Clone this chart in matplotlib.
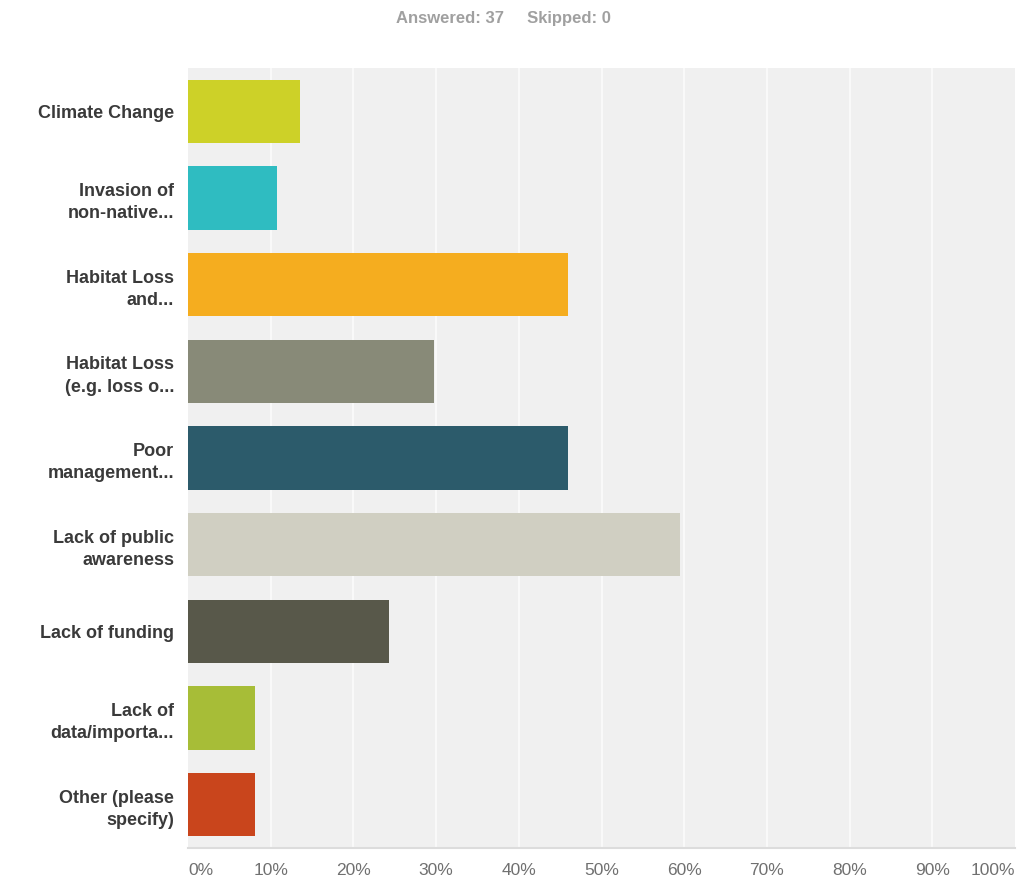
import matplotlib.pyplot as plt
import numpy as np

categories = ["Climate Change", "Invasion of\nnon-native...", "Habitat Loss\nand...",
              "Habitat Loss\n(e.g. loss o...", "Poor\nmanagement...",
              "Lack of public\nawareness", "Lack of funding", "Lack of\ndata/importa...",
              "Other (please\nspecify)"]
percents = [13.51, 10.81, 45.95, 29.73, 45.95, 59.46, 24.32, 8.11, 8.11]
colors = ["#cdd128", "#2fbcc1", "#f5ad1f", "#888a78", "#2c5b6b",
          "#d0cfc2", "#58584a", "#a7bd37", "#c9451c"]
tick_vals = list(range(0, 101, 10))
tick_labels = [f"{v}%" for v in tick_vals]

plt.rcParams['font.family'] = ['Liberation Sans', 'DejaVu Sans']

fig = plt.figure(figsize=(10.36, 8.91), dpi=100)
ax = fig.add_axes([188/1036, 1 - 848/891, 827/1036, 780/891])
ax.set_facecolor("#f0f0f0")

y = np.arange(len(categories))
ax.barh(y, percents, height=0.73, color=colors, zorder=3)
ax.set_ylim(len(categories) - 0.5, -0.5)
ax.set_xlim(0, 100)

# gridlines
for v in tick_vals[1:-1]:
    ax.axvline(v, color="#fafafa", lw=1.3, zorder=1)

for s in ax.spines.values():
    s.set_visible(False)
ax.spines['bottom'].set_visible(True)
ax.spines['bottom'].set_color("#dcdcdc")
ax.spines['bottom'].set_linewidth(1.5)

ax.set_yticks(y)
ax.set_yticklabels(categories, fontsize=13, fontweight="bold", color="#3a3a3a",
                   linespacing=1.4)
ax.tick_params(axis='y', length=0, pad=10)

ax.set_xticks(tick_vals)
ax.set_xticklabels(tick_labels, fontsize=12.5, color="#707070")
ax.tick_params(axis='x', length=0, pad=11)
xl = ax.get_xticklabels()
xl[0].set_horizontalalignment("left")
xl[-1].set_horizontalalignment("right")

fig.text(503/1036, 1 - 19/891, "Answered: 37     Skipped: 0", ha="center", va="center",
         fontsize=12, fontweight="bold", color="#a0a0a0")

fig.savefig("out.png", dpi=100)
